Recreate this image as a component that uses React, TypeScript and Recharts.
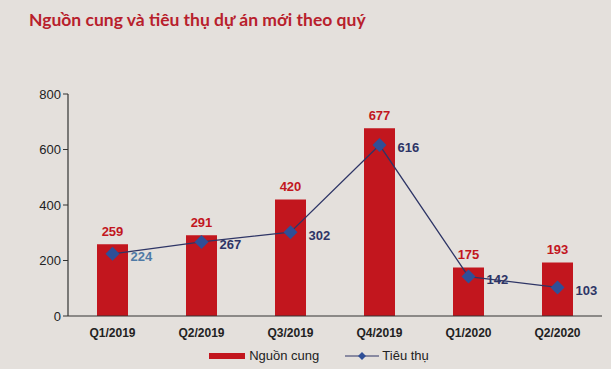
import { ComposedChart, Bar, Line, XAxis, YAxis, LabelList, Legend } from 'recharts';

const quarters = ['Q1/2019', 'Q2/2019', 'Q3/2019', 'Q4/2019', 'Q1/2020', 'Q2/2020'];
const supply = [259, 291, 420, 677, 175, 193];
const absorption = [224, 267, 302, 616, 142, 103];
const yTicks = [0, 200, 400, 600, 800];

const data = quarters.map((q, i) => ({ q, supply: supply[i], absorption: absorption[i] }));

const RED = '#c2161e';
const NAVY = '#2e3566';
const DIAMOND = '#2f4f97';
const BG = '#e4e0dc';

const Diamond = (props: any) => {
  const { cx, cy } = props;
  if (cx == null || cy == null) return null;
  const r = 7;
  return (
    <path
      d={`M${cx},${cy - r} L${cx + r},${cy} L${cx},${cy + r} L${cx - r},${cy} Z`}
      fill={DIAMOND}
    />
  );
};

const LineLabel = (props: any) => {
  const { x, y, value, index } = props;
  return (
    <text
      x={x + 18}
      y={y + 4}
      dominantBaseline="middle"
      fill={index === 0 ? '#4f7aa6' : NAVY}
      fontSize={13}
      fontWeight="bold"
      fontFamily="Liberation Sans, Arial, sans-serif"
    >
      {value}
    </text>
  );
};

const LegendContent = () => (
  <div
    style={{
      display: 'flex',
      justifyContent: 'center',
      alignItems: 'center',
      gap: 26,
      fontFamily: 'Liberation Sans, Arial, sans-serif',
      fontSize: 13,
      color: '#222',
      paddingLeft: 36,
    }}
  >
    <div style={{ display: 'flex', alignItems: 'center', gap: 4 }}>
      <div style={{ width: 36, height: 6, background: RED }} />
      <span>Nguồn cung</span>
    </div>
    <div style={{ display: 'flex', alignItems: 'center', gap: 3 }}>
      <svg width={34} height={10}>
        <line x1={0} y1={5} x2={34} y2={5} stroke={NAVY} strokeWidth={1.2} />
        <path d="M17,1 L21,5 L17,9 L13,5 Z" fill={DIAMOND} />
      </svg>
      <span>Tiêu thụ</span>
    </div>
  </div>
);

export default function App() {
  return (
    <div style={{ position: 'relative', width: 611, height: 369, background: BG }}>
      <style>{'body{margin:0}'}</style>
      <div
        style={{
          position: 'absolute',
          left: 29,
          top: 9,
          fontFamily: 'Lato, sans-serif',
          fontWeight: 'bold',
          fontSize: 17.5,
          color: '#b8202c',
        }}
      >
        Nguồn cung và tiêu thụ dự án mới theo quý
      </div>
      <ComposedChart
        width={611}
        height={369}
        data={data}
        margin={{ top: 94, right: 9, bottom: 8, left: 0 }}
      >
        <XAxis
          dataKey="q"
          axisLine={{ stroke: '#333', strokeWidth: 1.2 }}
          tickLine={false}
          tick={{ fill: '#222', fontSize: 12, fontWeight: 'bold', fontFamily: 'Liberation Sans, Arial, sans-serif' }}
          tickMargin={6}
          height={30}
        />
        <YAxis
          domain={[0, 800]}
          ticks={yTicks}
          width={68}
          axisLine={{ stroke: '#333', strokeWidth: 1.2 }}
          tickLine={{ stroke: '#333' }}
          tickSize={5}
          tick={{ fill: '#222', fontSize: 13, fontFamily: 'Liberation Sans, Arial, sans-serif' }}
        />
        <Legend verticalAlign="bottom" content={<LegendContent />} wrapperStyle={{ bottom: 6 }} />
        <Bar dataKey="supply" name="Nguồn cung" fill={RED} barSize={31} isAnimationActive={false}>
          <LabelList
            dataKey="supply"
            position="top"
            offset={8}
            fill={RED}
            fontSize={13}
            fontWeight="bold"
            fontFamily="Liberation Sans, Arial, sans-serif"
          />
        </Bar>
        <Line
          dataKey="absorption"
          name="Tiêu thụ"
          type="linear"
          stroke={NAVY}
          strokeWidth={1.3}
          dot={<Diamond />}
          activeDot={false}
          isAnimationActive={false}
        >
          <LabelList dataKey="absorption" content={<LineLabel />} />
        </Line>
      </ComposedChart>
    </div>
  );
}
